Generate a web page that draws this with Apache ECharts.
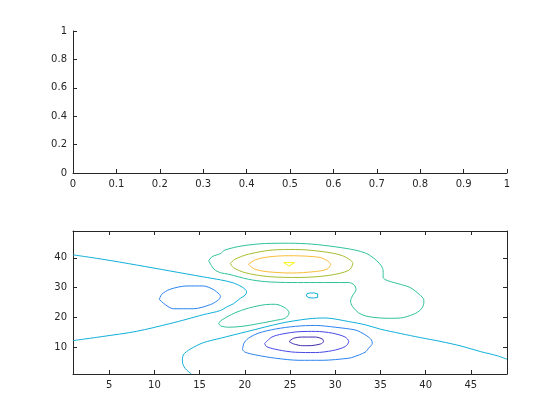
<!DOCTYPE html>
<html>
<head>
<meta charset="utf-8">
<script src="https://cdn.jsdelivr.net/npm/echarts@6.0.0/dist/echarts.min.js"></script>
<style>html,body{margin:0;padding:0;background:#fff}#c{width:560px;height:420px}</style>
</head>
<body>
<div id="c"></div>
<script>
// ---- data ----
const topXTicks = [0,0.1,0.2,0.3,0.4,0.5,0.6,0.7,0.8,0.9,1];
const topYTicks = [0,0.2,0.4,0.6,0.8,1];
const botXTicks = [5,10,15,20,25,30,35,40,45];
const botYTicks = [10,20,30,40];

const lvlM6 = [[24.9,11.9],[25.4,13.0],[26.3,13.4],[27.8,13.4],[28.6,12.7],[28.7,11.9],[28.4,11.1],[27.1,10.5],[26.4,10.5],[25.4,11.1],[24.9,11.9]];
const lvlM4 = [[22.2,11.3],[23.0,13.4],[24.1,14.4],[26.0,15.2],[27.8,15.3],[29.7,14.7],[31.1,13.4],[31.5,11.9],[31.1,10.2],[29.7,8.85],[27.8,8.2],[25.6,8.3],[23.7,9.1],[22.4,10.2],[22.2,11.3]];
const lvlM2Oval = [[10.55,26.0],[10.8,27.7],[11.7,29.4],[13.6,30.55],[15.4,30.55],[16.5,29.4],[17.2,27.7],[17.3,27.0],[17.1,25.9],[16.2,24.3],[14.3,22.9],[12.1,22.9],[11.2,24.3],[10.55,26.0]];
const lvlM2Ring = [[19.75,9.1],[19.9,11.3],[20.4,13.0],[21.5,14.7],[23.4,16.1],[25.6,17.0],[27.8,17.3],[30.0,16.7],[32.2,15.8],[32.8,15.05],[33.5,13.8],[34.0,12.5],[34.1,11.3],[33.7,9.7],[33.3,8.3],[32.1,6.8],[31.5,6.3],[28.55,5.6],[26.0,5.6],[23.4,6.3],[21.2,7.4],[20.05,8.3],[19.75,9.1]];
const lvl0Upper = [[1,41.0],[4.3,39.5],[8.0,37.6],[11.7,35.6],[15.4,33.6],[17.3,32.6],[18.6,31.7],[19.7,30.2],[20.2,28.6],[20.05,27.5],[19.5,26.4],[18.75,24.6],[18.0,23.5],[17.3,22.3],[15.4,20.9],[13.6,19.4],[11.7,17.9],[8.0,15.3],[4.3,13.6],[1,12.2]];
const lvl0Lower = [[14.1,1],[13.4,2.9],[13.1,5.1],[13.2,7.4],[13.95,9.3],[15.4,11.5],[17.3,13.0],[20.2,15.2],[24.1,18.1],[27.0,19.5],[28.9,19.8],[31.5,18.6],[33.35,17.5],[35.0,16.05],[37.2,14.6],[39.45,13.2],[41.7,11.9],[43.9,10.4],[46.1,8.5],[47.95,7.1],[49,5.95]];
const lvl0Loop = [[26.8,27.2],[26.9,28.0],[27.25,28.2],[27.7,28.2],[28.06,27.9],[28.06,26.7],[27.6,26.5],[27.1,26.6],[26.8,27.2]];
const lvl2Big = [[16.0,39.0],[16.4,40.4],[17.3,41.4],[17.8,42.6],[19.7,44.0],[22.3,44.8],[24.85,44.9],[27.4,44.6],[30.0,43.7],[32.2,42.6],[33.35,41.6],[33.9,40.7],[34.6,39.0],[35.1,37.3],[35.3,35.6],[35.3,33.4],[35.75,32.4],[37.2,31.1],[38.3,30.0],[39.3,27.7],[39.8,25.9],[39.8,24.8],[39.45,22.6],[38.7,21.1],[37.2,19.8],[35.75,19.7],[34.3,20.0],[33.35,20.5],[32.6,21.5],[31.9,23.7],[31.7,25.5],[31.9,27.2],[32.3,29.4],[32.1,30.9],[31.5,31.7],[27.8,31.7],[25.2,31.7],[22.3,32.0],[20.4,32.8],[18.2,34.5],[17.3,35.0],[16.6,36.2],[16.0,39.0]];
const lvl2Small = [[17.1,18.1],[17.5,19.2],[18.9,21.5],[20.4,23.1],[22.3,24.3],[23.4,24.4],[24.5,23.1],[24.9,21.5],[24.5,19.8],[23.4,19.0],[21.5,17.9],[19.7,17.0],[18.2,16.7],[17.3,17.2],[17.1,18.1]];
const lvl4 = [[18.4,38.1],[18.9,39.5],[20.4,41.2],[23.0,42.6],[25.6,42.8],[28.55,42.1],[30.8,40.7],[31.95,38.1],[31.5,35.8],[29.3,34.1],[26.0,33.4],[22.6,33.7],[20.05,35.0],[18.75,36.7],[18.4,38.1]];
const lvl6 = [[20.4,37.8],[21.15,39.3],[22.6,40.3],[24.85,40.7],[27.1,40.5],[28.55,39.9],[29.5,37.8],[29.1,36.2],[27.8,35.4],[25.2,34.9],[22.6,35.3],[21.1,36.2],[20.4,37.8]];
const lvl8 = [[24.3,38.4],[25.5,38.4],[24.9,37.2],[24.3,38.4]];

const contourLines = [
  {d: lvlM6, c: '#3d2ba8', s: 0.3},
  {d: lvlM4, c: '#4748e6', s: 0.3},
  {d: lvlM2Oval, c: '#2b83f0', s: 0.3},
  {d: lvlM2Ring, c: '#2b83f0', s: 0.3},
  {d: lvl0Upper, c: '#10b0d8', s: 0.3},
  {d: lvl0Lower, c: '#10b0d8', s: 0.3},
  {d: lvl0Loop, c: '#10b0d8', s: 0},
  {d: lvl2Big, c: '#2fc29a', s: 0.3},
  {d: lvl2Small, c: '#2fc29a', s: 0.3},
  {d: lvl4, c: '#a6be30', s: 0.3},
  {d: lvl6, c: '#f9bd3a', s: 0.3},
  {d: lvl8, c: '#f5f515', s: 0}
];

const AX = '#262626';
const FONT = 'DejaVu Sans';
function axisBase(extra) {
  return Object.assign({
    type: 'value',
    splitLine: {show: false},
    axisLine: {show: true, onZero: false, lineStyle: {color: AX, width: 1}},
    axisTick: {show: true, inside: true, length: 4, lineStyle: {color: AX, width: 1}},
    axisLabel: {show: true, color: AX, fontSize: 10, fontFamily: FONT, margin: 6}
  }, extra);
}

const chart = echarts.init(document.getElementById('c'), null, {renderer: 'canvas'});
const option = {
  backgroundColor: '#fff',
  animation: false,
  grid: [
    {left: 73, top: 31, width: 434, height: 142},
    {left: 73, top: 231, width: 434, height: 143}
  ],
  xAxis: [
    axisBase({gridIndex: 0, position: 'bottom', min: 0, max: 1, interval: 0.1,
      axisLabel: {color: AX, fontSize: 10, fontFamily: FONT, margin: 6, formatter: v => String(+v.toFixed(1))}}),
    axisBase({gridIndex: 1, position: 'bottom', min: 1, max: 49,
      axisTick: {show: true, inside: true, length: 4, lineStyle: {color: AX}, customValues: botXTicks},
      axisLabel: {color: AX, fontSize: 10, fontFamily: FONT, margin: 6, customValues: botXTicks}}),
    axisBase({gridIndex: 1, position: 'top', min: 1, max: 49,
      axisTick: {show: true, inside: true, length: 4, lineStyle: {color: AX}, customValues: botXTicks},
      axisLabel: {show: false}})
  ],
  yAxis: [
    axisBase({gridIndex: 0, position: 'left', min: 0, max: 1, interval: 0.2,
      axisLabel: {color: AX, fontSize: 10, fontFamily: FONT, margin: 6, formatter: v => String(+v.toFixed(1))}}),
    axisBase({gridIndex: 1, position: 'left', min: 1, max: 49,
      axisTick: {show: true, inside: true, length: 4, lineStyle: {color: AX}, customValues: botYTicks},
      axisLabel: {color: AX, fontSize: 10, fontFamily: FONT, margin: 6, customValues: botYTicks}}),
    axisBase({gridIndex: 1, position: 'right', min: 1, max: 49,
      axisTick: {show: true, inside: true, length: 4, lineStyle: {color: AX}, customValues: botYTicks},
      axisLabel: {show: false}})
  ],
  series: contourLines.map(l => ({
    type: 'line', xAxisIndex: 1, yAxisIndex: 1, data: l.d,
    showSymbol: false, symbol: 'none', smooth: l.s, clip: true,
    lineStyle: {color: l.c, width: 1}, silent: true
  }))
};
chart.setOption(option);
</script>
</body>
</html>
